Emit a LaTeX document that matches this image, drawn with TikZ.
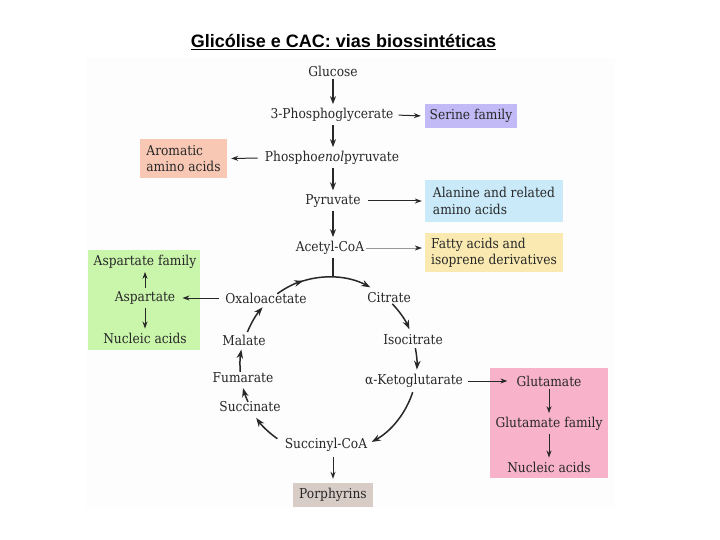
\documentclass[tikz,border=0pt]{standalone}
\usepackage{fontspec}
\setmainfont{DejaVu Serif}[FakeStretch=0.9]
\newfontfamily\titlefont{Liberation Sans}
\usetikzlibrary{arrows.meta,calc}
\definecolor{txt}{RGB}{40,40,40}
\definecolor{serc}{RGB}{194,186,247}
\definecolor{aroc}{RGB}{248,200,180}
\definecolor{alac}{RGB}{202,234,250}
\definecolor{fatc}{RGB}{250,234,178}
\definecolor{aspc}{RGB}{202,246,172}
\definecolor{gluc}{RGB}{248,178,202}
\definecolor{porc}{RGB}{216,204,198}
\definecolor{panel}{RGB}{253,253,253}
\tikzset{
  lbl/.style={font=\fontsize{13.6}{16.5}\selectfont, text=txt, inner sep=1pt},
  box/.style={lbl, inner sep=0pt},
  arr/.style={-{Stealth[length=8pt,width=6pt]}, line width=1.3pt, txt},
  sarr/.style={-{Stealth[length=7pt,width=5pt]}, line width=1pt, txt},
  farr/.style={-{Stealth[length=7pt,width=5pt,color=txt]}, line width=0.4pt, black!40},
  cyc/.style={-{Stealth[length=9pt,width=6.5pt]}, line width=1.5pt, txt},
}
\begin{document}
\begin{tikzpicture}[x=1pt,y=-1pt]
\useasboundingbox (0,0) rectangle (720,540);
\fill[panel] (86,58) rectangle (615,508);
\node[font=\titlefont\bfseries\fontsize{18}{22}\selectfont] (title) at (343.5,42) {\underline{Glicólise e CAC: vias biossintéticas}};

% colored boxes
\node[box, fill=serc, minimum width=92, minimum height=24] (ser) at (471,116) {Serine family};
\node[box, fill=aroc, minimum width=87, minimum height=39, align=left] (aro) at (183.5,158.5) {Aromatic\\amino acids};
\node[box, fill=alac, minimum width=138, minimum height=42, align=left] (ala) at (494,201) {Alanine and related\\amino acids};
\node[box, fill=fatc, minimum width=138, minimum height=39, align=left] (fat) at (494,252.5) {Fatty acids and\\isoprene derivatives};
\node[box, fill=aspc, minimum width=112, minimum height=100] (aspbox) at (144,300) {};
\node[box, fill=gluc, minimum width=118, minimum height=110] (glubox) at (549,423) {};
\node[box, fill=porc, minimum width=80, minimum height=24] (por) at (333,495) {Porphyrins};

% pathway labels
\node[lbl] (glc) at (333,71) {Glucose};
\node[lbl] (pg) at (332,115) {3-Phosphoglycerate};
\node[lbl] (pep) at (332,158) {Phospho\textit{enol}pyruvate};
\node[lbl] (pyr) at (333,201) {Pyruvate};
\node[lbl] (acoa) at (330,248) {Acetyl-CoA};
\node[lbl] (oaa) at (266,298) {Oxaloacetate};
\node[lbl] (cit) at (389,298) {Citrate};
\node[lbl] (icit) at (413,340) {Isocitrate};
\node[lbl] (akg) at (414,381) {α-Ketoglutarate};
\node[lbl] (sca) at (326,445) {Succinyl-CoA};
\node[lbl] (suc) at (250,407) {Succinate};
\node[lbl] (fum) at (243,378) {Fumarate};
\node[lbl] (mal) at (244,340) {Malate};

\node[lbl] (aspfam) at (145,262) {Aspartate family};
\node[lbl] (asp) at (145,298) {Aspartate};
\node[lbl] (nuc1) at (145,338) {Nucleic acids};
\node[lbl] (glu) at (549,381) {Glutamate};
\node[lbl] (glufam) at (549,424) {Glutamate family};
\node[lbl] (nuc2) at (549,467) {Nucleic acids};

% glycolysis arrows
\draw[arr, shorten <=2pt, shorten >=3pt] (glc.south) -- (glc.south |- pg.north);
\draw[arr, shorten <=2pt, shorten >=3pt] (pg.south -| glc) -- (glc |- pep.north);
\draw[arr, shorten <=2pt, shorten >=3pt] (pep.south -| glc) -- (glc |- pyr.north);
\draw[arr, shorten <=2pt, shorten >=3pt] (pyr.south -| glc) -- (glc |- acoa.north);

% side branches
\draw[sarr, shorten <=4pt, shorten >=4pt] (pg.east) -- (ser.west);
\draw[sarr, shorten <=6pt, shorten >=4pt] (pep.west) -- (aro.east);
\draw[sarr, shorten <=6pt, shorten >=3pt] (pyr.east) -- (ala.west);
\draw[farr, shorten <=1pt, shorten >=3pt] (acoa.east) -- (acoa.east -| fat.west);
\draw[sarr, shorten <=5pt, shorten >=6pt] (oaa.west) -- (asp.east);
\draw[sarr, shorten <=2pt, shorten >=2pt] (asp.north) -- (aspfam.south);
\draw[sarr, shorten <=2pt, shorten >=3pt] (asp.south) -- (nuc1.north);
\draw[sarr, shorten <=4pt, shorten >=8pt] (akg.east) -- (glu.west);
\draw[sarr, shorten <=2pt, shorten >=3pt] (glu.south) -- (glufam.north);
\draw[sarr, shorten <=2pt, shorten >=3pt] (glufam.south) -- (nuc2.north);
\draw[sarr, shorten <=4pt, shorten >=4pt] (sca.south -| por) -- (por.north);

% citric acid cycle
\coordinate (cc) at (329,365);
\coordinate (ctop) at ([shift={(272.6:88)}]cc);
\draw[line width=1.5pt, txt] (acoa.south -| ctop) ++(0,2) -- (ctop);
\draw[cyc] ([shift={(234:88)}]cc) arc[start angle=234, end angle=253, radius=88];
\draw[cyc] ([shift={(250:88)}]cc) arc[start angle=250, end angle=298, radius=88];
\draw[cyc] ([shift={(316:88)}]cc) arc[start angle=316, end angle=336, radius=88];
\draw[cyc] ([shift={(349:88)}]cc) arc[start angle=349, end angle=363, radius=88];
\draw[cyc] ([shift={(18:88)}]cc) arc[start angle=18, end angle=61, radius=88];
\draw[cyc] ([shift={(125:90)}]cc) arc[start angle=125, end angle=144, radius=90];
\draw[cyc] ([shift={(155.5:89)}]cc) arc[start angle=155.5, end angle=165, radius=89];
\draw[cyc] ([shift={(175.5:89)}]cc) arc[start angle=175.5, end angle=190, radius=89];
\draw[cyc] ([shift={(202:88)}]cc) arc[start angle=202, end angle=221, radius=88];
\end{tikzpicture}
\end{document}
